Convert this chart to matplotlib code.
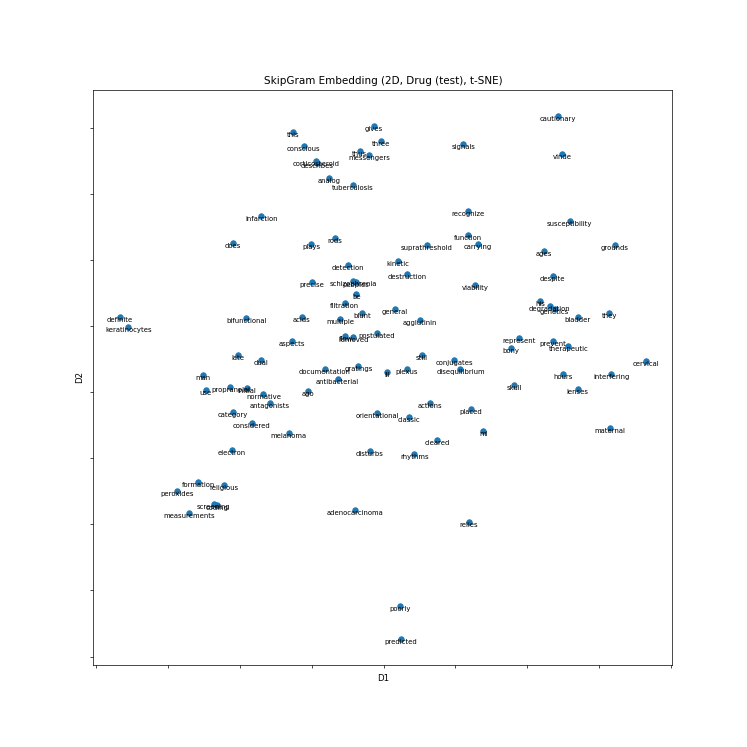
import matplotlib
matplotlib.use("Agg")
import matplotlib.pyplot as plt

# words and their 2D t-SNE coordinates
words = [
    "this", "conscious", "corticosteroid", "describes", "analog", "tuberculosis",
    "gives", "three", "thus", "messengers", "signals", "recognize", "function",
    "carrying", "suprathreshold", "rods", "plays", "kinetic", "detection",
    "destruction", "precise", "schizophrenia", "peoples", "viability",
    "cautionary", "vinde", "susceptibility", "grounds", "ages", "despite",
    "infarction", "does", "definite", "keratinocytes", "bifunctional", "aspects",
    "late", "dual", "man", "use", "propranolol", "initial", "normative",
    "antagonists", "category", "considered", "melanoma", "electron", "be",
    "filtration", "general", "blunt", "acids", "multiple", "agglutinin",
    "postulated", "flow", "removed", "still", "conjugates", "disequilibrium",
    "documentation", "gratings", "ill", "plexus", "antibacterial", "ago",
    "actions", "placed", "orientational", "classic", "mi", "cleared", "disturbs",
    "rhythms", "his", "degradation", "genetics", "bladder", "they", "represent",
    "bony", "prevent", "therapeutic", "cervical", "hours", "interfering", "skull",
    "lenses", "maternal", "formation", "religious", "peroxides", "screening",
    "coding", "measurements", "adenocarcinoma", "relies", "poorly", "predicted",
]
d1 = [
    2.74, 2.89, 3.06, 3.07, 3.24, 3.57,
    3.87, 3.96, 3.67, 3.80, 5.11, 5.17, 5.18,
    5.31, 4.60, 3.32, 2.99, 4.20, 3.51,
    4.33, 3.00, 3.58, 3.61, 5.27,
    6.43, 6.48, 6.59, 7.22, 6.23, 6.35,
    2.30, 1.91, 0.33, 0.45, 2.09, 2.73,
    1.98, 2.29, 1.49, 1.53, 1.87, 2.10, 2.33,
    2.42, 1.90, 2.17, 2.68, 1.89, 3.62,
    3.46, 4.16, 3.70, 2.86, 3.40, 4.50,
    3.91, 3.47, 3.58, 4.53, 4.98, 5.07,
    3.18, 3.65, 4.05, 4.32, 3.36, 2.95,
    4.64, 5.21, 3.91, 4.35, 5.39, 4.75, 3.81,
    4.43, 6.18, 6.31, 6.38, 6.70, 7.14, 5.89,
    5.77, 6.35, 6.57, 7.65, 6.49, 7.17, 5.82,
    6.70, 7.15, 1.42, 1.78, 1.13, 1.64,
    1.69, 1.29, 3.60, 5.19, 4.23, 4.24,
]
d2 = [
    7.93, 7.73, 7.50, 7.47, 7.24, 7.13,
    8.02, 7.80, 7.65, 7.58, 7.76, 6.74, 6.38,
    6.24, 6.22, 6.33, 6.24, 5.99, 5.92,
    5.78, 5.67, 5.68, 5.67, 5.62,
    8.18, 7.60, 6.59, 6.22, 6.13, 5.75,
    6.66, 6.25, 5.13, 4.99, 5.12, 4.78,
    4.56, 4.48, 4.26, 4.03, 4.07, 4.06, 3.97,
    3.84, 3.70, 3.54, 3.38, 3.12, 5.49,
    5.35, 5.26, 5.20, 5.14, 5.10, 5.09,
    4.90, 4.85, 4.83, 4.56, 4.49, 4.35,
    4.35, 4.39, 4.31, 4.35, 4.20, 4.02,
    3.84, 3.74, 3.69, 3.62, 3.41, 3.28, 3.11,
    3.07, 5.38, 5.30, 5.25, 5.13, 5.19, 4.82,
    4.66, 4.77, 4.69, 4.47, 4.27, 4.27, 4.10,
    4.05, 3.46, 2.64, 2.59, 2.51, 2.30,
    2.29, 2.17, 2.22, 2.03, 0.77, 0.27,
]

fig, ax = plt.subplots(figsize=(12, 12))
ax.scatter(d1, d2, s=40, color='#1f77b4')
for w, x, y in zip(words, d1, d2):
    ax.text(x, y, w, fontsize=8, ha='center', va='top')

ax.set_title('SkipGram Embedding (2D, Drug (test), t-SNE)')
ax.set_xlabel('D1')
ax.set_ylabel('D2')
ax.set_xticks(range(9))
ax.set_yticks(range(9))
ax.set_xticklabels([])
ax.set_yticklabels([])

plt.savefig('out.png', dpi=62.25)
plt.close()
